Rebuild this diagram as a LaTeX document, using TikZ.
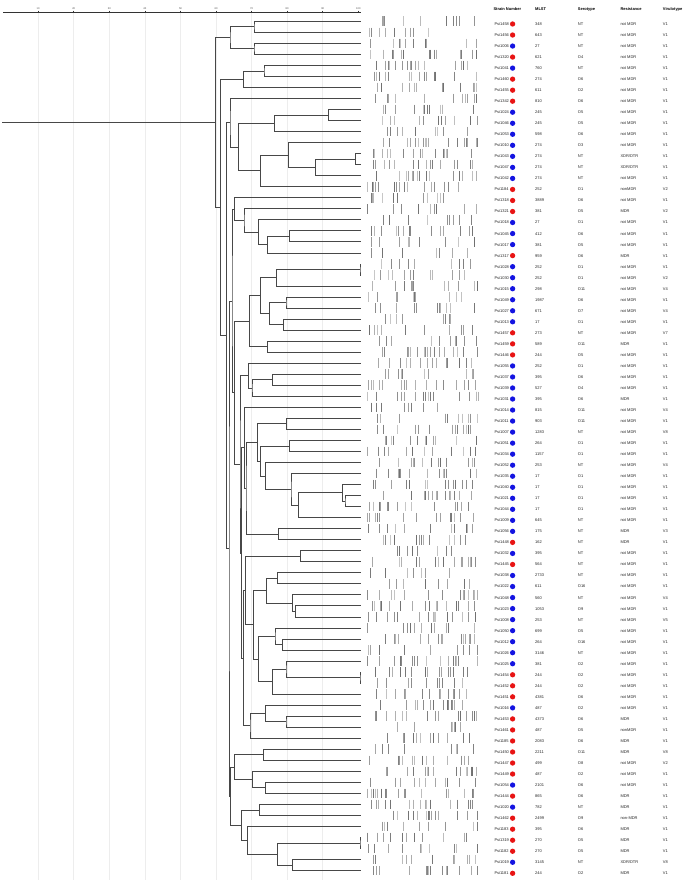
\documentclass[tikz,border=0pt]{standalone}
\usepackage{fontspec}
\setmainfont{Liberation Sans}
\usetikzlibrary{calc}
\definecolor{dr}{RGB}{232,20,20}
\definecolor{db}{RGB}{20,20,225}
\tikzset{
  br/.style={draw=black!72, line width=0.8pt},
  txt/.style={font=\fontsize{4.0}{5}\selectfont, inner sep=0pt, anchor=west, text=black!85, text height=2.9pt, text depth=0pt},
  hdr/.style={font=\fontsize{4.0}{5}\selectfont\bfseries, inner sep=0pt, anchor=west, text height=2.9pt, text depth=0pt},
  gridln/.style={draw=black!7, line width=0.5pt},
  axisln/.style={draw=black!80, line width=0.8pt},
  dot/.style={circle, inner sep=0pt, minimum size=5.3pt},
}
\newcommand\mrg[4]{%
  \coordinate (#1x) at (#2,0);
  \coordinate (#1m) at ($(#3)!0.5!(#4)$);
  \coordinate (#1) at (#1x |- #1m);
  \draw[br] (#3) -| (#1) |- (#4);
}
\begin{document}
\begin{tikzpicture}[x=1pt,y=-1pt]
\useasboundingbox (0,0) rectangle (685,882);
\fill[white] (0,0) rectangle (685,882);
% grid
\foreach \gv in {10,20,...,90} { \draw[gridln] ({2.6+3.557*\gv},13) -- ({2.6+3.557*\gv},880); }
% axis
\draw[axisln] (3,12.6) -- (360.7,12.6);
\foreach \gv in {10,20,...,100} {
  \draw[axisln, line width=0.5pt] ({2.6+3.557*\gv},10.6) -- ({2.6+3.557*\gv},12.6);
  \node[font=\fontsize{2.6}{3}\selectfont, inner sep=0pt, anchor=south, text=black!70] (ax\gv) at ({2.6+3.557*\gv},10) {\gv};
}
% leaves
\foreach \i in {1,...,78} {\coordinate (L\i) at (360.7,{21.3+11.03*(\i-1)});}
% dendrogram
\mrg{a1}{254}{L1}{L2}
\mrg{a2}{254}{L3}{L4}
\mrg{a3}{230}{a1}{a2}
\mrg{b1}{264}{L5}{L6}
\mrg{b2}{243.3}{b1}{L7}
\mrg{c1}{328.3}{L9}{L10}
\mrg{c2}{274.7}{c1}{L11}
\mrg{c3}{355.7}{L13}{L14}
\mrg{c4}{315.7}{c3}{L15}
\mrg{c5}{288.3}{L12}{c4}
\mrg{c6}{260.3}{c5}{L16}
\mrg{c7}{238.7}{c2}{c6}
\mrg{c8}{230}{L8}{c7}
\mrg{d1}{289.3}{L20}{L21}
\mrg{d2}{267.3}{d1}{L22}
\mrg{d3}{258.3}{L19}{d2}
\mrg{d4}{244}{L18}{d3}
\mrg{d5}{234.3}{L17}{d4}
\mrg{e1}{360}{L23}{L24}
\mrg{e2}{276.3}{e1}{L25}
\mrg{e3}{286}{L26}{L27}
\mrg{e4}{283.3}{L28}{L29}
\mrg{e5}{269.3}{e3}{e4}
\mrg{e6}{260.7}{e2}{e5}
\mrg{e7}{267.3}{L30}{L31}
\mrg{e8}{249.3}{e6}{e7}
\mrg{f1}{272.7}{L33}{L34}
\mrg{f2}{252}{f1}{L35}
\mrg{f3}{248.3}{L32}{f2}
\mrg{g1}{286.7}{L37}{L38}
\mrg{g2}{289.3}{L39}{L40}
\mrg{g3}{345}{L44}{L45}
\mrg{g4}{342.3}{L43}{g3}
\mrg{g5}{298.3}{g4}{L46}
\mrg{g6}{291}{L42}{g5}
\mrg{g7}{265.3}{L41}{g6}
\mrg{g8}{260.7}{g2}{g7}
\mrg{g9}{257.7}{g1}{g8}
\mrg{g10}{278.7}{L47}{L48}
\mrg{g11}{246}{g9}{g10}
\mrg{g12}{244.3}{L36}{g11}
\mrg{h1}{300.3}{L49}{L50}
\mrg{h2}{277.3}{L51}{L52}
\mrg{h3}{295.3}{L54}{L55}
\mrg{h4}{292.7}{L53}{h3}
\mrg{h5}{266.7}{h2}{h4}
\mrg{h6}{282.7}{L57}{L58}
\mrg{h7}{275}{L56}{h6}
\mrg{h8}{360}{L60}{L61}
\mrg{h9}{286}{L59}{h8}
\mrg{h10}{272.3}{h9}{L62}
\mrg{h11}{258.3}{h7}{h10}
\mrg{h12}{253.3}{h5}{h11}
\mrg{h13}{245.7}{h1}{h12}
\mrg{i1}{286}{L64}{L65}
\mrg{i2}{265.3}{L63}{i1}
\mrg{i3}{250}{i2}{L66}
\mrg{i4}{243.3}{h13}{i3}
\mrg{i5}{241.7}{g12}{i4}
\mrg{i6}{240}{f3}{i5}
\mrg{i7}{234.8}{e8}{i6}
\mrg{i8}{232}{d5}{i7}
\mrg{j1}{263.7}{L67}{L68}
\mrg{j2}{265.3}{L70}{L71}
\mrg{j3}{252.7}{L69}{j2}
\mrg{j4}{234.3}{j1}{j3}
\mrg{j5}{259.7}{L72}{L73}
\mrg{j6}{360}{L75}{L76}
\mrg{j7}{292.7}{L77}{L78}
\mrg{j8}{277.3}{j6}{j7}
\mrg{j9}{247.3}{L74}{j8}
\mrg{j10}{241.7}{j5}{j9}
\mrg{j11}{230.7}{j4}{j10}
\mrg{k1}{229}{i8}{j11}
\mrg{k2}{226.7}{c8}{k1}
\mrg{k3}{220.7}{b2}{k2}
\mrg{rt}{215.7}{a3}{k3}
\coordinate (rtzero) at (2,0);
\coordinate (rtL) at (rtzero |- rt);
\draw[br, line width=1.1pt] (rt) -- (rtL);
% gel bands
\pgfmathsetseed{42}
\foreach \i in {1,...,78} {
  \pgfmathsetmacro\yy{21.3+11.03*(\i-1)}
  \pgfmathtruncatemacro\nb{8+random(0,9)}
  \foreach \k in {1,...,\nb} {
    \pgfmathsetmacro\bx{367+111*rnd}
    \pgfmathtruncatemacro\bg{22+35*rnd}
    \draw[black!\bg, line width=0.45pt] (\bx,{\yy-4.8}) -- (\bx,{\yy+4.8});
  }
}
% header
\node[hdr] (h1) at (493.3,9) {Strain Number};
\node[hdr] (h2) at (535,9) {MLST};
\node[hdr] (h3) at (577.7,9) {Serotype};
\node[hdr] (h4) at (620.3,9) {Resistance};
\node[hdr] (h5) at (662.7,9) {Virulotype};
% table rows
\foreach \ix/\sn/\cl/\ml/\so/\rs/\vt in {
1/1458/dr/348/NT/not MDR/V1,
2/1456/dr/643/NT/not MDR/V1,
3/1006/db/27/NT/not MDR/V1,
4/1320/dr/621/O4/not MDR/V1,
5/1041/db/760/NT/not MDR/V1,
6/1460/dr/274/O6/not MDR/V1,
7/1455/dr/611/O2/not MDR/V1,
8/1342/dr/810/O6/not MDR/V1,
9/1024/db/245/O5/not MDR/V1,
10/1046/db/245/O5/not MDR/V1,
11/1053/db/598/O6/not MDR/V1,
12/1010/db/274/O3/not MDR/V1,
13/1043/db/274/NT/{XDR/DTR}/V1,
14/1047/db/274/NT/{XDR/DTR}/V1,
15/1042/db/274/NT/not MDR/V1,
16/1184/dr/252/O1/nonMDR/V2,
17/1318/dr/3889/O6/not MDR/V1,
18/1321/dr/381/O5/MDR/V2,
19/1018/db/27/O1/not MDR/V1,
20/1045/db/412/O6/not MDR/V1,
21/1017/db/381/O5/not MDR/V1,
22/1317/dr/959/O6/MDR/V1,
23/1028/db/252/O1/not MDR/V1,
24/1030/db/252/O1/not MDR/V2,
25/1015/db/298/O11/not MDR/V4,
26/1049/db/1987/O6/not MDR/V1,
27/1027/db/671/O7/not MDR/V4,
28/1013/db/17/O1/not MDR/V1,
29/1457/dr/273/NT/not MDR/V7,
30/1459/dr/589/O11/MDR/V1,
31/1446/dr/244/O5/not MDR/V1,
32/1055/db/252/O1/not MDR/V1,
33/1037/db/395/O6/not MDR/V1,
34/1039/db/527/O4/not MDR/V1,
35/1031/db/395/O6/MDR/V1,
36/1014/db/815/O11/not MDR/V4,
37/1011/db/903/O11/not MDR/V1,
38/1007/db/1283/NT/not MDR/V8,
39/1051/db/264/O1/not MDR/V1,
40/1034/db/1157/O1/not MDR/V1,
41/1052/db/253/NT/not MDR/V4,
42/1035/db/17/O1/not MDR/V1,
43/1040/db/17/O1/not MDR/V1,
44/1021/db/17/O1/not MDR/V1,
45/1044/db/17/O1/not MDR/V1,
46/1009/db/645/NT/not MDR/V1,
47/1056/db/175/NT/MDR/V3,
48/1448/dr/162/NT/MDR/V1,
49/1032/db/395/NT/not MDR/V1,
50/1445/dr/564/NT/not MDR/V1,
51/1038/db/2733/NT/not MDR/V1,
52/1022/db/611/O16/not MDR/V1,
53/1048/db/560/NT/not MDR/V4,
54/1023/db/1053/O9/not MDR/V1,
55/1008/db/253/NT/not MDR/V5,
56/1050/db/699/O5/not MDR/V1,
57/1012/db/264/O16/not MDR/V1,
58/1026/db/3146/NT/not MDR/V1,
59/1025/db/381/O2/not MDR/V1,
60/1454/dr/244/O2/not MDR/V1,
61/1452/dr/244/O2/not MDR/V1,
62/1451/dr/4381/O6/not MDR/V1,
63/1016/db/487/O2/not MDR/V1,
64/1453/dr/4373/O6/MDR/V1,
65/1461/dr/487/O5/nonMDR/V1,
66/1185/dr/2083/O6/MDR/V1,
67/1450/dr/2211/O11/MDR/V8,
68/1447/dr/499/O8/not MDR/V2,
69/1449/dr/487/O2/not MDR/V1,
70/1054/db/2101/O6/not MDR/V1,
71/1444/dr/865/O6/MDR/V1,
72/1020/db/782/NT/MDR/V1,
73/1462/dr/2499/O9/non-MDR/V1,
74/1183/dr/395/O6/MDR/V1,
75/1319/dr/270/O5/MDR/V1,
76/1182/dr/270/O5/MDR/V1,
77/1019/db/3145/NT/{XDR/DTR}/V8,
78/1181/dr/244/O2/MDR/V1} {
  \pgfmathsetmacro\yt{24.0+11.03*(\ix-1)}
  \node[txt] (s\ix) at (494.3,\yt) {Psi\sn};
  \node[dot, fill=\cl] (d\ix) at (512.6,\yt) {};
  \node[txt] (m\ix) at (535,\yt) {\ml};
  \node[txt] (o\ix) at (577.7,\yt) {\so};
  \node[txt] (r\ix) at (620.3,\yt) {\rs};
  \node[txt] (v\ix) at (662.7,\yt) {\vt};
}
\end{tikzpicture}
\end{document}
